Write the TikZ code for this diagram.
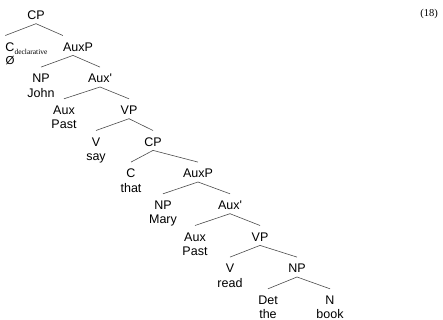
\documentclass[tikz,border=0pt]{standalone}
\usepackage{fontspec}
\setmainfont{Liberation Sans}
\newfontfamily\exfont{Liberation Serif}
\usetikzlibrary{positioning}

\begin{document}
\begin{tikzpicture}[
  x=1pt,
  y=1pt,
  font=\fontsize{12.5}{14}\selectfont,
  cat/.style={
    anchor=base,
    inner sep=0pt,
    text height=15.5pt,
    text depth=4pt
  },
  lex/.style={
    inner sep=0pt,
    text height=9pt,
    text depth=3pt
  },
  branch/.style={draw=black!70,line width=0.6pt}
]
\useasboundingbox (0,0) rectangle (443,-320);

% 1. Matrix clause
\node[cat] (cp1) at (36,-19.5) {CP};
\node[cat] (c1) at (10,-51.2) {C\rlap{\raisebox{-3.5pt}{\exfont\fontsize{7.5}{8}\selectfont declarative}}};
\node[lex,below=0pt of c1] (null1) {\fontsize{11.5}{12}\selectfont Ø};
\node[cat] (auxp1) at (78,-51.2) {AuxP};
\node[cat] (np1) at (41,-82.8) {NP};
\node[lex,below=1pt of np1] (john) {John};
\node[cat] (auxbar1) at (100,-82.8) {Aux\textquotesingle};
\node[cat] (aux1) at (64,-114.5) {Aux};
\node[lex,below=1pt of aux1] (past1) {Past};
\node[cat] (vp1) at (129,-114.5) {VP};
\node[cat] (v1) at (96,-146.2) {V};
\node[lex,below=1pt of v1] (say) {say};

% 2. Embedded clause
\node[cat] (cp2) at (153,-146.2) {CP};
\node[cat] (c2) at (131,-177.8) {C};
\node[lex,below=1pt of c2] (that) {that};
\node[cat] (auxp2) at (198,-177.8) {AuxP};
\node[cat] (np2) at (163,-209.5) {NP};
\node[lex,below=1pt of np2] (mary) {Mary};
\node[cat] (auxbar2) at (230,-209.5) {Aux\textquotesingle};
\node[cat] (aux2) at (195,-241.2) {Aux};
\node[lex,below=1pt of aux2] (past2) {Past};
\node[cat] (vp2) at (260,-241.2) {VP};
\node[cat] (v2) at (230,-272.8) {V};
\node[lex,below=1pt of v2] (read) {read};
\node[cat] (np3) at (297,-272.8) {NP};
\node[cat] (det) at (268,-304.5) {Det};
\node[lex,below=1pt of det] (the) {the};
\node[cat] (n) at (330,-304.5) {N};
\node[lex,below=1pt of n] (book) {book};

% Example number
\node[font=\exfont\fontsize{10.5}{12}\selectfont] (exnum) at (429,-14) {(18)};

% Branches
\draw[branch] (cp1.south) -- (c1.north west);
\draw[branch] (cp1.south) -- (auxp1.north west);
\draw[branch] ([xshift=-5pt]auxp1.south) -- (np1.north);
\draw[branch] ([xshift=-5pt]auxp1.south) -- (auxbar1.north);
\draw[branch] (auxbar1.south) -- (aux1.north);
\draw[branch] (auxbar1.south) -- (vp1.north);
\draw[branch] (vp1.south) -- (v1.north);
\draw[branch] (vp1.south) -- (cp2.north);
\draw[branch] (cp2.south) -- (c2.north);
\draw[branch] (cp2.south) -- (auxp2.north);
\draw[branch] (auxp2.south) -- (np2.north);
\draw[branch] (auxp2.south) -- (auxbar2.north);
\draw[branch] (auxbar2.south) -- (aux2.north);
\draw[branch] (auxbar2.south) -- (vp2.north);
\draw[branch] (vp2.south) -- (v2.north);
\draw[branch] (vp2.south) -- (np3.north);
\draw[branch] (np3.south) -- (det.north);
\draw[branch] (np3.south) -- (n.north);

\end{tikzpicture}
\end{document}
